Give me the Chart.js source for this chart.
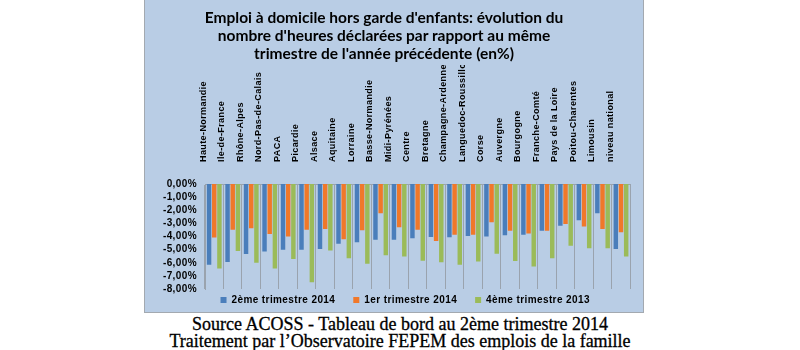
<!DOCTYPE html>
<html lang="fr">
<head>
<meta charset="utf-8">
<script src="https://cdn.jsdelivr.net/npm/chart.js@4.4.1/dist/chart.umd.min.js"></script>
<style>
  html, body { margin: 0; padding: 0; background: #ffffff; }
  body { width: 800px; height: 350px; position: relative; overflow: hidden; }
  #panel {
    position: absolute; left: 144px; top: 0; width: 498px; height: 312px;
    background: #B9CDE5; border: 1px solid #A3A9B0; border-top: none;
  }
  #chart { position: absolute; left: 0; top: 0; }
  #title {
    position: absolute; left: 144px; width: 480px; top: 8px;
    text-align: center; font: bold 15.5px Lato, "Open Sans", sans-serif;
    line-height: 18px; color: #000;
  }
  #source {
    position: absolute; left: 0; width: 800px; top: 316px;
    text-align: center; font: 18px "Liberation Serif", serif;
    line-height: 17px; color: #000; -webkit-text-stroke: 0.3px #000;
  }
</style>
</head>
<body>
<div id="panel"><canvas id="chart" width="498" height="312"></canvas></div>
<div id="title">Emploi à domicile hors garde d'enfants: évolution du<br>nombre d'heures déclarées par rapport au même<br>trimestre de l'année précédente (en%)</div>
<div id="source">Source ACOSS - Tableau de bord au 2ème trimestre 2014<br>Traitement par l’Observatoire FEPEM des emplois de la famille</div>
<script>
// Régions, dans l'ordre du graphique
const regions = [
  "Haute-Normandie", "Ile-de-France", "Rhône-Alpes", "Nord-Pas-de-Calais",
  "PACA", "Picardie", "Alsace", "Aquitaine", "Lorraine", "Basse-Normandie",
  "Midi-Pyrénées", "Centre", "Bretagne", "Champagne-Ardenne",
  "Languedoc-Roussillon", "Corse", "Auvergne", "Bourgogne", "Franche-Comté",
  "Pays de la Loire", "Poitou-Charentes", "Limousin", "niveau national"
];

// Évolution des heures déclarées (en %)
const t2_2014 = [-6.15, -5.95, -5.34, -5.14, -5.01, -5.01, -4.96, -4.56, -4.43, -4.25,
                 -4.25, -4.13, -4.03, -4.05, -3.97, -4.00, -3.90, -3.87, -3.57, -3.19,
                 -2.76, -2.23, -4.96];
const t1_2014 = [-4.08, -3.49, -3.37, -3.80, -4.00, -3.49, -3.42, -4.20, -3.52, -2.23,
                 -3.29, -3.49, -4.35, -3.87, -3.87, -2.91, -3.57, -3.77, -3.57, -3.04,
                 -3.24, -3.42, -3.67];
const t4_2013 = [-6.43, -5.11, -6.00, -6.43, -5.72, -7.49, -5.06, -5.65, -6.08, -5.42,
                 -5.52, -5.85, -5.97, -6.15, -5.90, -5.32, -5.87, -6.28, -5.65, -4.71,
                 -4.89, -4.89, -5.52];

const seriesNames = ["2ème trimestre 2014", "1er trimestre 2014", "4ème trimestre 2013"];
const yTicks = [0, -1, -2, -3, -4, -5, -6, -7, -8];

const fmtPct = v => v.toFixed(2).replace(".", ",") + "%";

// espacement des lettres pour les libellés des axes et de la légende
const spacing = {
  id: "spacing",
  beforeDraw(chart) { chart.ctx.letterSpacing = "0.4px"; }
};

// la légende garde un interligne serré sous la zone de tracé
const legendLift = {
  id: "legendLift",
  afterLayout(chart) {
    if (chart.legend) { chart.legend.top -= 12; }
  }
};

const font = (size) => ({ family: "'Liberation Sans', Arial, sans-serif", size, weight: "bold" });

new Chart(document.getElementById("chart"), {
  type: "bar",
  data: {
    labels: regions,
    datasets: [
      { label: seriesNames[0], data: t2_2014, backgroundColor: "#4A7EBB" },
      { label: seriesNames[1], data: t1_2014, backgroundColor: "#F0782A" },
      { label: seriesNames[2], data: t4_2013, backgroundColor: "#9BBB59" }
    ]
  },
  options: {
    responsive: false,
    animation: false,
    categoryPercentage: 0.84,
    barPercentage: 0.86,
    layout: { padding: { top: 65, right: 0, bottom: 0, left: 0 } },
    plugins: {
      title: { display: false },
      tooltip: { enabled: false },
      legend: {
        position: "bottom",
        maxHeight: 23,
        labels: { boxWidth: 6, boxHeight: 6, padding: 18, color: "#000", font: font(10) }
      }
    },
    scales: {
      x: {
        position: "top",
        afterFit: s => { s.height = 119; },
        grid: { offset: true, drawTicks: false, color: "#9AA3AE", lineWidth: 1 },
        border: { display: true, color: "#9AA3AE" },
        ticks: {
          autoSkip: false, minRotation: 90, maxRotation: 90, padding: 22,
          color: "#000", font: font(9)
        }
      },
      y: {
        min: -8, max: 0,
        afterFit: s => { s.width = 60; },
        afterBuildTicks: s => { s.ticks = yTicks.map(v => ({ value: v })); },
        grid: { display: false, drawTicks: false },
        border: { display: true, color: "#9AA3AE" },
        ticks: {
          autoSkip: false, padding: 8, color: "#000",
          callback: v => fmtPct(v), font: font(10)
        }
      }
    }
  },
  plugins: [spacing, legendLift]
});
</script>
</body>
</html>
